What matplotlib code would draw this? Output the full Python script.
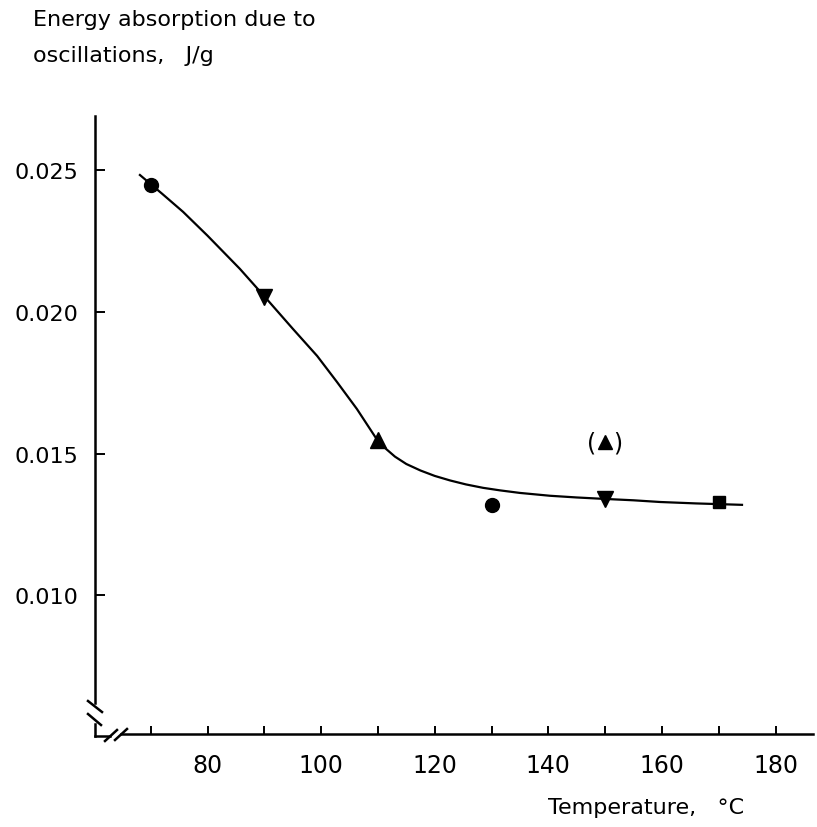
import matplotlib.pyplot as plt

# measured points (temperature in degC, energy in J/g)
t_circle = [70, 130]
e_circle = [0.02447, 0.01318]
t_down = [90, 150]
e_down = [0.02052, 0.01339]
t_up = [110]
e_up = [0.01548]
t_square = [170]
e_square = [0.01329]
t_paren = [150]
e_paren = [0.0154]

# hand drawn fitted curve
t_curve = [68.1, 72.0, 75.7, 80.0, 85.7, 90.1, 95.05, 99.3, 102.8, 106.3, 110.0,
           111.5, 113.0, 115.0, 117.5, 120.0, 122.7, 125.5, 128.5, 131.5, 135.0,
           140.3, 145.0, 149.8, 155.0, 159.7, 166.0, 174.1]
e_curve = [0.02482, 0.02416, 0.02352, 0.02268, 0.02151, 0.02052, 0.01939, 0.01844,
           0.01752, 0.01657, 0.01544, 0.01515, 0.01489, 0.01463, 0.01440, 0.01421,
           0.01405, 0.01391, 0.01379, 0.01370, 0.01361, 0.01351, 0.01345, 0.01340,
           0.01335, 0.01329, 0.01324, 0.01319]

x_major = [80, 100, 120, 140, 160, 180]
x_minor = [70, 90, 110, 130, 150, 170]
y_ticks = [0.010, 0.015, 0.020, 0.025]
y_labels = ['0.010', '0.015', '0.020', '0.025']

W, H = 817, 828
fig = plt.figure(figsize=(W / 100, H / 100), dpi=100)
L, R, B, T = 95, 813, 735, 117
ax = fig.add_axes([L / W, (H - B) / H, (R - L) / W, (B - T) / H])

ax.set_xlim(60.19, 186.6)
ax.set_ylim(0.00511, 0.0269)
for s in ax.spines.values():
    s.set_visible(False)

ax.plot(t_curve, e_curve, color='black', lw=1.6, zorder=2)
ms = 10
ax.plot(t_circle, e_circle, 'o', color='black', ms=ms, zorder=3)
ax.plot(t_down, e_down, 'v', color='black', ms=ms + 1, zorder=3)
ax.plot(t_up, e_up, '^', color='black', ms=ms + 1, zorder=3)
ax.plot(t_square, e_square, 's', color='black', ms=ms - 1, zorder=3)
ax.plot(t_paren, e_paren, '^', color='black', ms=ms, zorder=3)
ax.text(t_paren[0] - 2.3, e_paren[0], '(', fontsize=17, ha='center', va='center')
ax.text(t_paren[0] + 2.3, e_paren[0], ')', fontsize=17, ha='center', va='center')

ax.set_xticks(x_major)
ax.set_xticks(x_minor, minor=True)
ax.set_yticks(y_ticks)
ax.set_yticklabels(y_labels)
ax.tick_params(axis='x', which='both', direction='in', length=6, width=1.4, labelsize=17, pad=14)
ax.tick_params(axis='y', direction='in', length=7, width=1.4, labelsize=16, pad=12)


def px(x, y):
    return (x - L) / (R - L), (B - y) / (B - T)


def seg(p1, p2):
    a, b = px(*p1), px(*p2)
    ax.plot([a[0], b[0]], [a[1], b[1]], color='black', lw=1.8,
            transform=ax.transAxes, clip_on=False)


# axis lines with breaks
seg((95, 117), (95, 704))
seg((88, 702), (102, 713))
seg((88, 715), (101, 726))
seg((95, 725), (95, 737))
seg((95, 737), (110, 737))
seg((105, 742), (117, 731))
seg((115, 741), (127, 730))
seg((121, 735), (813, 735))

fig.text(33 / W, 1 - 20 / H, 'Energy absorption due to', fontsize=16, va='center', ha='left')
fig.text(33 / W, 1 - 56 / H, 'oscillations,   J/g', fontsize=16, va='center', ha='left')
fig.text(548 / W, 1 - 808 / H, 'Temperature,   °C', fontsize=16, va='center', ha='left')

fig.savefig('out.png', dpi=100)
